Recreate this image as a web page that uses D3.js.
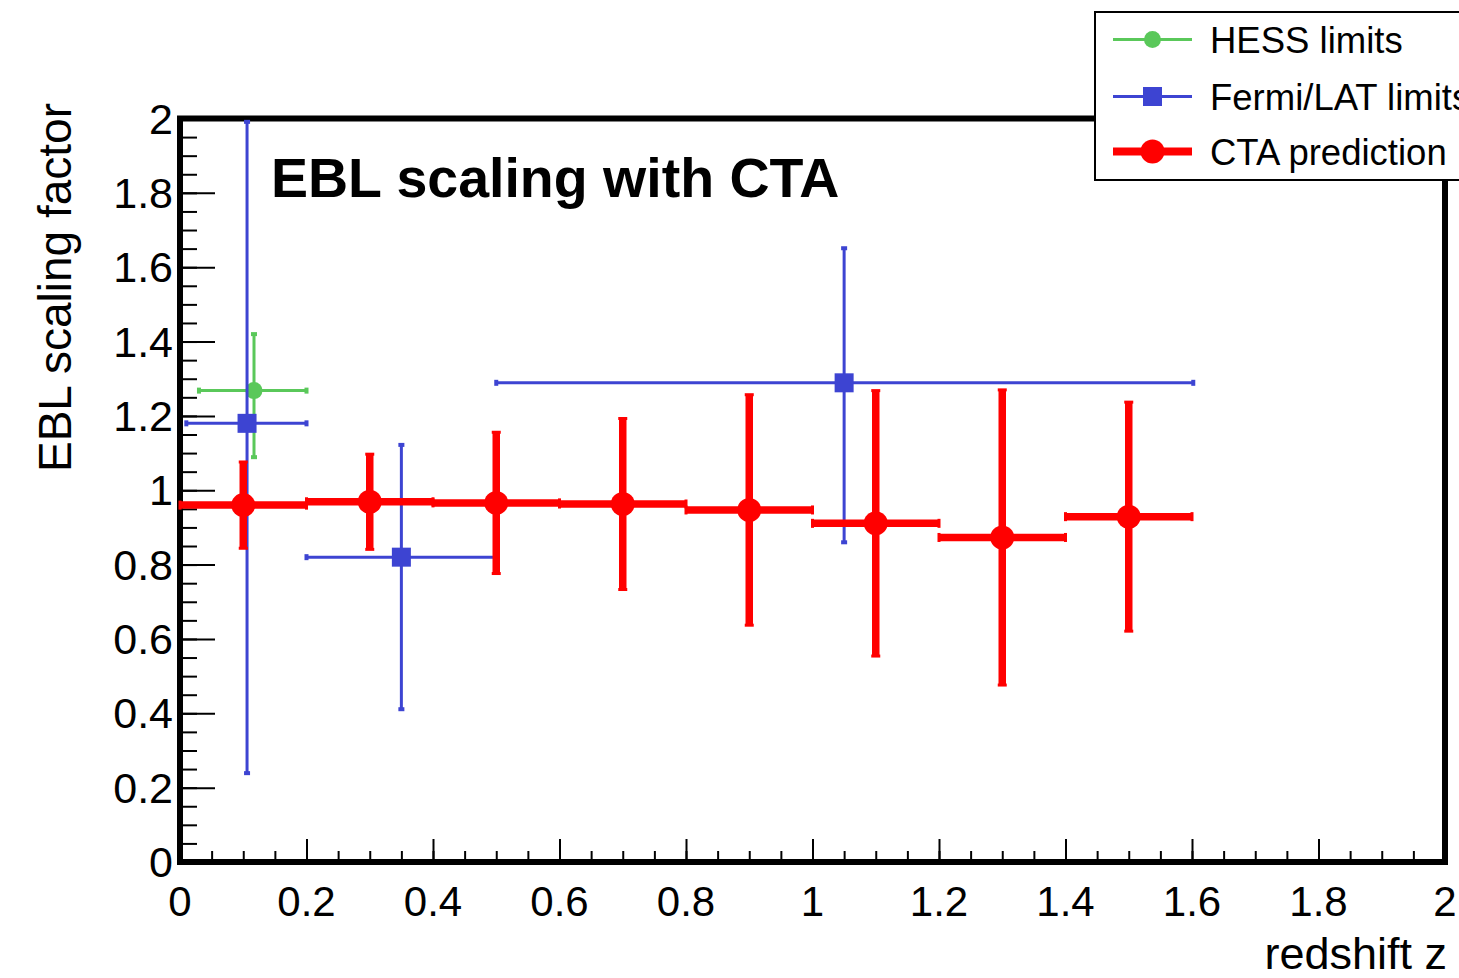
<!DOCTYPE html>
<html>
<head>
<meta charset="utf-8">
<script src="https://cdn.jsdelivr.net/npm/d3@7"></script>
<style>
  html, body { margin: 0; padding: 0; background: #fff; }
  svg { display: block; font-family: "Liberation Sans", Arial, Helvetica, sans-serif; }
</style>
</head>
<body>
<svg id="chart" width="1459" height="978"></svg>
<script>
// ---- data -------------------------------------------------------------
// CTA predicted EBL scaling factor per redshift bin
const ctaZ        = [0.1, 0.3, 0.5, 0.7, 0.9, 1.1, 1.3, 1.5];
const ctaZErr     = [0.1, 0.1, 0.1, 0.1, 0.1, 0.1, 0.1, 0.1];
const ctaScale    = [0.960, 0.969, 0.966, 0.963, 0.947, 0.911, 0.873, 0.929];
const ctaScaleErr = [0.116, 0.128, 0.190, 0.230, 0.310, 0.357, 0.397, 0.308];

// Fermi/LAT limits (asymmetric errors)
const fermiZ         = [0.106, 0.35, 1.05];
const fermiZErrLow   = [0.096, 0.15, 0.55];
const fermiZErrHigh  = [0.094, 0.15, 0.552];
const fermiScale     = [1.180, 0.820, 1.289];
const fermiErrLow    = [0.941, 0.409, 0.429];
const fermiErrHigh   = [0.811, 0.302, 0.362];

// HESS limits
const hessZ        = [0.117];
const hessZErrLow  = [0.087];
const hessZErrHigh = [0.083];
const hessScale    = [1.268];
const hessErrLow   = [0.179];
const hessErrHigh  = [0.152];

// axis ticks
const xTickValues = [0, 0.2, 0.4, 0.6, 0.8, 1, 1.2, 1.4, 1.6, 1.8, 2];
const xTickLabels = ["0", "0.2", "0.4", "0.6", "0.8", "1", "1.2", "1.4", "1.6", "1.8", "2"];
const yTickValues = [0, 0.2, 0.4, 0.6, 0.8, 1, 1.2, 1.4, 1.6, 1.8, 2];
const yTickLabels = ["0", "0.2", "0.4", "0.6", "0.8", "1", "1.2", "1.4", "1.6", "1.8", "2"];

const seriesNames  = ["HESS limits", "Fermi/LAT limits", "CTA prediction"];
const seriesColors = ["#5ac85a", "#3d44d2", "#ff0000"];

// ---- layout -----------------------------------------------------------
const svg = d3.select("#chart");
const x = d3.scaleLinear().domain([0, 2]).range([180, 1445]);
const y = d3.scaleLinear().domain([0, 2]).range([862, 118.5]);

const minorStep = 0.05;
const minorVals = d3.range(0, 2 + 1e-9, minorStep).map(v => +v.toFixed(2));

// ---- axes (ticks point into the frame) --------------------------------
const gx = svg.append("g").attr("transform", `translate(0,${y(0)})`);
gx.call(d3.axisBottom(x).tickValues(minorVals).tickSize(-11).tickFormat(""));
gx.append("g").call(d3.axisBottom(x).tickValues(xTickValues).tickSize(-23).tickFormat(""));
gx.selectAll(".domain").remove();
gx.selectAll("line").attr("stroke", "#000").attr("stroke-width", 2);

const gy = svg.append("g").attr("transform", `translate(${x(0)},0)`);
gy.call(d3.axisLeft(y).tickValues(minorVals).tickSize(-17).tickFormat(""));
gy.append("g").call(d3.axisLeft(y).tickValues(yTickValues).tickSize(-35).tickFormat(""));
gy.selectAll(".domain").remove();
gy.selectAll("line").attr("stroke", "#000").attr("stroke-width", 2);

// tick labels
svg.append("g").selectAll("text").data(xTickValues).join("text")
  .attr("x", d => x(d)).attr("y", 916)
  .attr("text-anchor", "middle").attr("font-size", 42)
  .text((d, i) => xTickLabels[i]);

svg.append("g").selectAll("text").data(yTickValues).join("text")
  .attr("x", 173).attr("y", d => y(d) + 15)
  .attr("text-anchor", "end").attr("font-size", 43)
  .text((d, i) => yTickLabels[i]);

// frame
svg.append("rect")
  .attr("x", x(0)).attr("y", y(2))
  .attr("width", x(2) - x(0)).attr("height", y(0) - y(2))
  .attr("fill", "none").attr("stroke", "#000").attr("stroke-width", 6);

// axis titles
svg.append("text")
  .attr("x", 1447).attr("y", 969)
  .attr("text-anchor", "end").attr("font-size", 45)
  .text("redshift z");

svg.append("text")
  .attr("transform", "translate(71,103) rotate(-90)")
  .attr("text-anchor", "end").attr("font-size", 46)
  .text("EBL scaling factor");

// plot title
svg.append("text")
  .attr("x", 271).attr("y", 197)
  .attr("font-size", 55.5).attr("font-weight", "bold")
  .text("EBL scaling with CTA");

// ---- error-bar graphs ---------------------------------------------------
function drawGraph(pts, opts) {
  const g = svg.append("g");
  pts.forEach(p => {
    const cx = x(p.z), cy = y(p.v);
    // horizontal error
    g.append("line").attr("x1", x(p.z - p.zl)).attr("x2", x(p.z + p.zh))
      .attr("y1", cy).attr("y2", cy)
      .attr("stroke", opts.color).attr("stroke-width", opts.width);
    // vertical error
    g.append("line").attr("x1", cx).attr("x2", cx)
      .attr("y1", y(p.v - p.vl)).attr("y2", y(p.v + p.vh))
      .attr("stroke", opts.color).attr("stroke-width", opts.width);
    // end caps
    const c = opts.cap;
    [[x(p.z - p.zl), cy, "v"], [x(p.z + p.zh), cy, "v"],
     [cx, y(p.v - p.vl), "h"], [cx, y(p.v + p.vh), "h"]].forEach(([px, py, dir]) => {
      if (dir === "v") {
        g.append("rect").attr("x", px - c.t / 2).attr("y", py - c.l / 2)
          .attr("width", c.t).attr("height", c.l).attr("fill", opts.color);
      } else {
        g.append("rect").attr("x", px - c.l / 2).attr("y", py - c.t / 2)
          .attr("width", c.l).attr("height", c.t).attr("fill", opts.color);
      }
    });
    // marker
    if (opts.marker === "square") {
      g.append("rect").attr("x", cx - opts.size / 2).attr("y", cy - opts.size / 2)
        .attr("width", opts.size).attr("height", opts.size).attr("fill", opts.color);
    } else {
      g.append("circle").attr("cx", cx).attr("cy", cy).attr("r", opts.size)
        .attr("fill", opts.color);
    }
  });
}

const hessPts = hessZ.map((z, i) => ({ z, zl: hessZErrLow[i], zh: hessZErrHigh[i],
  v: hessScale[i], vl: hessErrLow[i], vh: hessErrHigh[i] }));
const fermiPts = fermiZ.map((z, i) => ({ z, zl: fermiZErrLow[i], zh: fermiZErrHigh[i],
  v: fermiScale[i], vl: fermiErrLow[i], vh: fermiErrHigh[i] }));
const ctaPts = ctaZ.map((z, i) => ({ z, zl: ctaZErr[i], zh: ctaZErr[i],
  v: ctaScale[i], vl: ctaScaleErr[i], vh: ctaScaleErr[i] }));

drawGraph(hessPts,  { color: seriesColors[0], width: 3, marker: "circle", size: 8.5, cap: { l: 6, t: 4 } });
drawGraph(fermiPts, { color: seriesColors[1], width: 3, marker: "square", size: 19,  cap: { l: 6, t: 4 } });
drawGraph(ctaPts,   { color: seriesColors[2], width: 7.5, marker: "circle", size: 12, cap: { l: 9, t: 3 } });

// ---- legend -------------------------------------------------------------
const leg = svg.append("g");
leg.append("rect").attr("x", 1095).attr("y", 12).attr("width", 400).attr("height", 168)
  .attr("fill", "#fff").attr("stroke", "#000").attr("stroke-width", 2);

const legY = [39.5, 96.5, 151.5];
const legLineW = [3, 3, 8];
seriesNames.forEach((name, i) => {
  const ly = legY[i];
  leg.append("line").attr("x1", 1113).attr("x2", 1192).attr("y1", ly).attr("y2", ly)
    .attr("stroke", seriesColors[i]).attr("stroke-width", legLineW[i]);
  if (i === 1) {
    leg.append("rect").attr("x", 1152.5 - 9.5).attr("y", ly - 9.5)
      .attr("width", 19).attr("height", 19).attr("fill", seriesColors[i]);
  } else {
    leg.append("circle").attr("cx", 1152.5).attr("cy", ly).attr("r", i === 2 ? 12 : 8.5)
      .attr("fill", seriesColors[i]);
  }
  leg.append("text").attr("x", 1210).attr("y", ly + 13).attr("font-size", 36.5).text(name);
});
</script>
</body>
</html>
